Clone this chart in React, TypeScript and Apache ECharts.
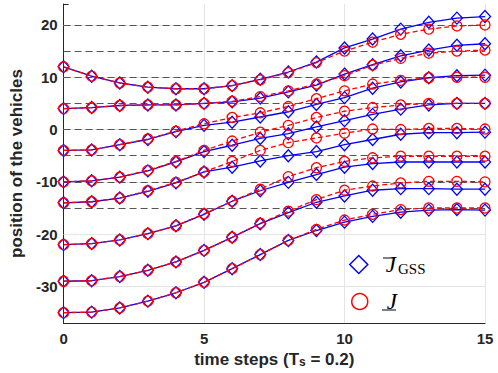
import React, { useEffect, useRef } from "react";
import * as echarts from "echarts";

const timeSteps = [0, 1, 2, 3, 4, 5, 6, 7, 8, 9, 10, 11, 12, 13, 14, 15];
const targetPositions = [20, 15, 10, 5, 0, -5, -10, -15];
const yGridValues = [-30, -20, -10, 0, 10, 20];
const xGridValues = [5, 10, 15];

// J-bar GSS (blue diamonds, solid)
const gssV1 = [12, 10.2, 8.9, 8.1, 7.8, 7.8, 8.4, 9.6, 11.0, 12.9, 15.6, 17.3, 19.2, 20.5, 21.3, 21.6];
const gssV2 = [4, 4.2, 4.6, 4.7, 4.7, 5.0, 5.3, 6.0, 7.2, 8.5, 10.6, 12.4, 14.1, 15.2, 16.1, 16.4];
const gssV3 = [-4, -3.9, -2.9, -1.9, -0.4, 0.8, 1.4, 2.4, 3.4, 4.8, 6.1, 7.9, 9.1, 9.9, 10.3, 10.4];
const gssV4 = [-10, -9.8, -9.1, -7.9, -6.2, -4.2, -3.0, -1.7, -0.8, 0.5, 1.7, 2.9, 3.9, 4.7, 5.0, 5.0];
const gssV5 = [-14, -13.8, -13.1, -11.8, -10.2, -8.1, -7.2, -6.0, -5.0, -4.2, -2.9, -1.9, -0.9, -0.6, -0.6, -0.5];
const gssV6 = [-22, -21.8, -21.1, -19.9, -18.4, -16.2, -13.7, -11.7, -10.1, -8.6, -7.2, -6.5, -6.2, -6.2, -6.2, -6.2];
const gssV7 = [-29, -28.9, -28.1, -26.9, -25.3, -23.1, -20.6, -18.0, -15.9, -13.9, -12.7, -11.6, -11.3, -11.3, -11.4, -11.4];
const gssV8 = [-35, -34.9, -34.1, -32.8, -31.2, -29.2, -26.6, -23.9, -21.2, -19.3, -17.7, -16.6, -15.8, -15.4, -15.3, -15.4];

// J-underline (red circles, dashed)
const lowV1 = [12, 10.2, 8.9, 8.1, 7.8, 7.8, 8.4, 9.5, 10.9, 12.8, 15.0, 16.7, 18.2, 19.2, 19.8, 20.0];
const lowV2 = [4, 4.2, 4.6, 4.7, 4.7, 5.0, 5.4, 6.3, 7.4, 8.7, 10.3, 12.3, 13.6, 14.6, 15.0, 15.2];
const lowV3 = [-4, -3.9, -2.9, -1.8, -0.3, 1.1, 2.3, 3.2, 4.4, 5.9, 7.4, 8.7, 9.4, 9.9, 10.0, 10.0];
const lowV4 = [-10, -9.8, -9.1, -7.8, -6.1, -4.0, -2.2, -0.5, 0.8, 2.3, 3.5, 4.2, 4.7, 5.0, 5.0, 5.0];
const lowV5 = [-14, -13.8, -13.1, -11.7, -10.1, -8.1, -6.1, -4.0, -2.5, -1.6, -0.7, 0.1, 0.0, 0.2, 0.2, 0.1];
const lowV6 = [-22, -21.8, -21.1, -19.9, -18.4, -16.1, -13.7, -11.4, -9.0, -7.3, -6.1, -5.4, -5.1, -5.1, -5.1, -5.1];
const lowV7 = [-29, -28.9, -28.1, -26.9, -25.3, -23.1, -20.6, -17.9, -15.6, -13.4, -11.6, -10.8, -10.2, -9.9, -9.9, -10.0];
const lowV8 = [-35, -34.9, -34.1, -32.8, -31.2, -29.2, -26.6, -23.9, -21.2, -19.1, -17.3, -16.2, -15.3, -15.0, -15.0, -15.0];

const gssSet = [gssV1, gssV2, gssV3, gssV4, gssV5, gssV6, gssV7, gssV8];
const lowSet = [lowV1, lowV2, lowV3, lowV4, lowV5, lowV6, lowV7, lowV8];

const AXIS_COLOR = "#262626";
const SANS = "Liberation Sans";
const SERIF = "Liberation Serif";
const BLUE = "#0000ff";
const RED = "#ff0000";

export default function App() {
  const ref = useRef<HTMLDivElement>(null);

  useEffect(() => {
    if (!ref.current) return;
    const chart = echarts.init(ref.current, undefined, { renderer: "svg" });

    const toPts = (vals: number[]) => timeSteps.map((t, i) => [t, vals[i]]);

    const gssSeries = gssSet.map((vals) => ({
      name: "gss",
      type: "line",
      data: toPts(vals),
      z: 3,
      symbol: "diamond",
      symbolSize: [11, 12],
      showAllSymbol: true,
      lineStyle: { color: BLUE, width: 1.3, type: "solid" },
      itemStyle: { color: "transparent", borderColor: BLUE, borderWidth: 1.3 },
      emphasis: { disabled: true },
    }));

    const lowSeries = lowSet.map((vals) => ({
      name: "low",
      type: "line",
      data: toPts(vals),
      z: 4,
      symbol: "circle",
      symbolSize: 10,
      showAllSymbol: true,
      lineStyle: { color: RED, width: 1.3, type: [5, 3] },
      itemStyle: { color: "transparent", borderColor: RED, borderWidth: 1.3 },
      emphasis: { disabled: true },
    }));

    const refSeries = {
      name: "refs",
      type: "line",
      data: [],
      z: 1,
      silent: true,
      markLine: {
        silent: true,
        symbol: "none",
        z: 1,
        label: { show: false },
        emphasis: { disabled: true },
        data: [
          ...yGridValues.map((v) => ({ yAxis: v, lineStyle: { color: "#e4e4e4", width: 1, type: "solid" } })),
          ...xGridValues.map((v) => ({ xAxis: v, lineStyle: { color: "#e4e4e4", width: 1, type: "solid" } })),
          ...targetPositions.map((v) => ({ yAxis: v, lineStyle: { color: "#555555", width: 1.1, type: [7, 4] } })),
        ],
      },
    };

    const legendText = { color: "#000", fontFamily: SERIF };

    chart.setOption({
      animation: false,
      backgroundColor: "#ffffff",
      grid: { left: 55, right: 13, top: 4, bottom: 45, containLabel: false },
      xAxis: {
        type: "value",
        min: 0,
        max: 15,
        interval: 5,
        axisLine: { show: true, onZero: false, lineStyle: { color: AXIS_COLOR, width: 1 } },
        axisTick: { show: true, inside: true, length: 5, lineStyle: { color: AXIS_COLOR } },
        axisLabel: { color: AXIS_COLOR, fontWeight: "bold", fontSize: 15, fontFamily: SANS, margin: 8 },
        splitLine: { show: false },
        name: "{a|time steps (T}{s|s}{a| = 0.2)}",
        nameLocation: "middle",
        nameGap: 19,
        nameTextStyle: {
          rich: {
            a: { fontSize: 17, fontWeight: "bold", fontFamily: SANS, color: AXIS_COLOR, verticalAlign: "bottom" },
            s: { fontSize: 12, fontWeight: "bold", fontFamily: SANS, color: AXIS_COLOR, verticalAlign: "bottom", padding: [9, 0, 0, 0] },
          },
        },
      },
      yAxis: {
        type: "value",
        min: -37,
        max: 24,
        minInterval: 10,
        maxInterval: 10,
        axisLine: { show: true, onZero: false, lineStyle: { color: AXIS_COLOR, width: 1 } },
        axisTick: { show: true, inside: true, length: 5, lineStyle: { color: AXIS_COLOR } },
        axisLabel: {
          color: AXIS_COLOR,
          fontWeight: "bold",
          fontSize: 15,
          fontFamily: SANS,
          margin: 6,
          formatter: (v: number) => (Math.abs(v % 10) < 1e-9 ? String(v) : ""),
        },
        splitLine: { show: false },
        name: "position of the vehicles",
        nameLocation: "middle",
        nameGap: 33,
        nameTextStyle: { fontSize: 17, fontWeight: "bold", fontFamily: SANS, color: AXIS_COLOR },
      },
      legend: [
        {
          data: [
            {
              name: "gss",
              icon: "diamond",
              itemStyle: { color: "transparent", borderColor: BLUE, borderWidth: 1.5 },
            },
          ],
          left: 349,
          top: 253,
          padding: 0,
          itemWidth: 18,
          itemHeight: 18,
          selectedMode: false,
          formatter: () => "{j|J}{g|GSS}",
          textStyle: {
            rich: {
              j: { ...legendText, fontSize: 23, fontStyle: "italic", padding: [0, 0, 0, 13], verticalAlign: "bottom" },
              g: { ...legendText, fontSize: 15, verticalAlign: "bottom", padding: [4, 0, 0, 2] },
            },
          },
        },
        {
          data: [
            {
              name: "low",
              icon: "circle",
              itemStyle: { color: "transparent", borderColor: RED, borderWidth: 1.5 },
            },
          ],
          left: 351,
          top: 290,
          padding: 0,
          itemWidth: 16,
          itemHeight: 16,
          selectedMode: false,
          formatter: () => "{j|J}",
          textStyle: {
            rich: {
              j: { ...legendText, fontSize: 23, fontStyle: "italic", padding: [0, 0, 0, 14] },
            },
          },
        },
      ],
      graphic: [
        { type: "line", shape: { x1: 383, y1: 258, x2: 395, y2: 258 }, style: { stroke: "#000", lineWidth: 1 } },
        { type: "line", shape: { x1: 382, y1: 310, x2: 396, y2: 310 }, style: { stroke: "#000", lineWidth: 1 } },
      ],
      series: [refSeries, ...gssSeries, ...lowSeries],
    });

    return () => chart.dispose();
  }, []);

  return (
    <div
      ref={ref}
      style={{ position: "fixed", left: 0, top: 0, width: 498, height: 373, background: "#fff" }}
    />
  );
}
